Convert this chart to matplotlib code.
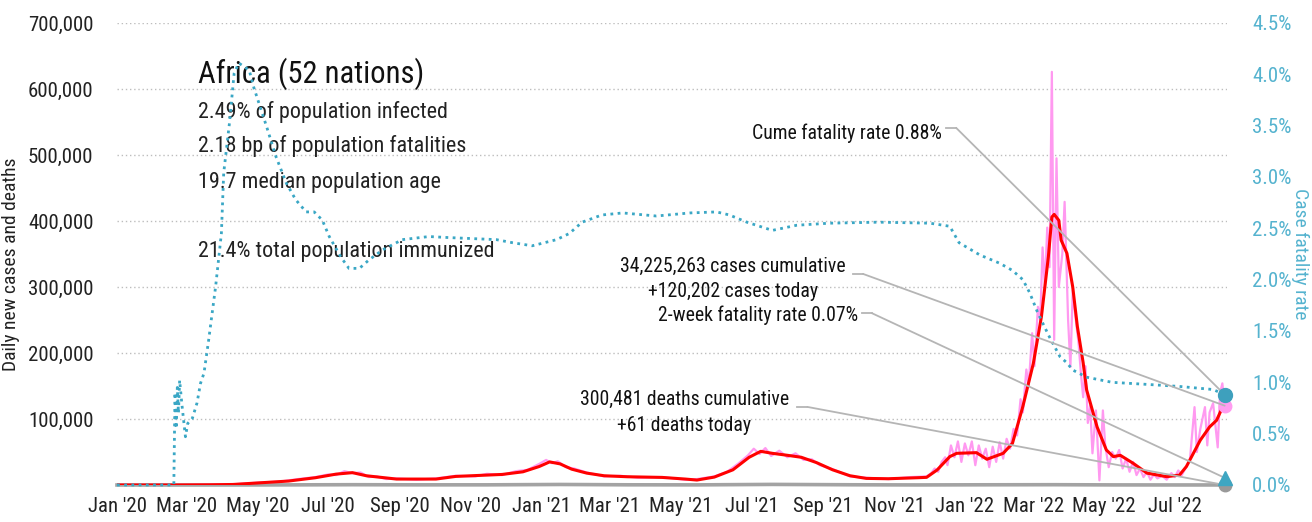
import matplotlib
matplotlib.use("Agg")
import matplotlib.pyplot as plt
import matplotlib.dates as mdates
from matplotlib import font_manager as fm
import numpy as np
import pandas as pd
from matplotlib.ticker import FuncFormatter, MultipleLocator


def pick_font():
    """Prefer a narrow sans; fall back to a regular one."""
    fonts = fm.fontManager.ttflist
    names = {f.name for f in fonts}
    for name in ["Roboto Condensed", "Liberation Sans Narrow", "Arial Narrow",
                 "Open Sans Condensed", "Noto Sans Condensed", "DejaVu Sans Condensed"]:
        if name in names:
            return name, "normal", 1.0
    for fam in ["Roboto", "Noto Sans", "Open Sans", "DejaVu Sans"]:
        for f in fonts:
            if f.name == fam and "ondensed" in f.fname:
                return fam, "condensed", 1.0
    return "Roboto", "normal", 0.88


FONT, STRETCH, FS = pick_font()
plt.rcParams["font.family"] = [FONT, "DejaVu Sans"]
plt.rcParams["font.stretch"] = STRETCH

# 7-day average of new cases (thousands)
avg_dates = [
    "2020-01-01", "2020-02-19", "2020-03-21", "2020-04-10", "2020-05-05", "2020-05-28",
    "2020-06-20", "2020-07-08", "2020-07-22", "2020-08-03", "2020-08-29", "2020-10-02",
    "2020-10-19", "2020-11-28", "2020-12-16", "2020-12-30", "2021-01-08", "2021-01-17",
    "2021-01-27", "2021-02-09", "2021-02-24", "2021-03-16", "2021-04-15", "2021-05-05",
    "2021-05-15", "2021-05-30", "2021-06-15", "2021-06-29", "2021-07-09", "2021-07-19",
    "2021-08-01", "2021-08-13", "2021-08-26", "2021-09-09", "2021-09-24", "2021-10-08",
    "2021-10-27", "2021-11-21", "2021-11-29", "2021-12-08", "2021-12-19", "2021-12-25",
    "2022-01-11", "2022-01-20", "2022-02-03", "2022-02-11", "2022-02-20", "2022-03-01",
    "2022-03-08", "2022-03-14", "2022-03-17", "2022-03-19", "2022-03-23", "2022-03-25",
    "2022-03-30", "2022-04-04", "2022-04-08", "2022-04-13", "2022-04-16", "2022-04-25",
    "2022-05-03", "2022-05-09", "2022-05-15", "2022-05-26", "2022-06-07", "2022-06-24",
    "2022-07-05", "2022-07-11", "2022-07-23", "2022-07-31", "2022-08-06", "2022-08-13",
]
avg_cases = [
    0, 0, 0.3, 0.8, 3.5, 6,
    11, 16.5, 18.7, 14, 9, 9,
    13, 16, 20, 28, 35, 32,
    24, 18, 14, 12.5, 11.5, 9,
    7.5, 12, 23, 42, 51, 48,
    45, 42, 34, 23, 14, 10,
    9.5, 11, 11.6, 22.7, 43, 48,
    49, 39, 48, 63, 119, 184,
    255, 346, 406, 410, 401, 371,
    351, 300, 240, 185, 144, 88,
    53, 43, 45, 33, 18, 12.6,
    15, 28, 68, 88, 98, 125,
]

# daily new cases (thousands)
daily_dates = [
    "2020-01-01", "2020-02-19", "2020-03-21", "2020-04-10", "2020-05-05", "2020-05-20",
    "2020-06-05", "2020-06-20", "2020-07-01", "2020-07-08", "2020-07-15", "2020-07-22",
    "2020-07-29", "2020-08-05", "2020-08-12", "2020-08-20", "2020-08-29", "2020-09-15",
    "2020-10-02", "2020-10-19", "2020-11-05", "2020-11-15", "2020-11-28", "2020-12-10",
    "2020-12-20", "2020-12-30", "2021-01-05", "2021-01-10", "2021-01-15", "2021-01-22",
    "2021-01-29", "2021-02-09", "2021-02-24", "2021-03-10", "2021-03-25", "2021-04-15",
    "2021-05-05", "2021-05-15", "2021-05-30", "2021-06-10", "2021-06-20", "2021-06-28",
    "2021-07-03", "2021-07-08", "2021-07-13", "2021-07-18", "2021-07-25", "2021-08-01",
    "2021-08-08", "2021-08-15", "2021-08-22", "2021-08-29", "2021-09-09", "2021-09-24",
    "2021-10-08", "2021-10-27", "2021-11-15", "2021-11-29", "2021-12-03", "2021-12-06",
    "2021-12-09", "2021-12-12", "2021-12-15", "2021-12-17", "2021-12-20", "2021-12-23",
    "2021-12-26", "2021-12-29", "2022-01-01", "2022-01-04", "2022-01-07", "2022-01-10",
    "2022-01-13", "2022-01-16", "2022-01-19", "2022-01-22", "2022-01-25", "2022-01-28",
    "2022-01-31", "2022-02-03", "2022-02-06", "2022-02-09", "2022-02-12", "2022-02-15",
    "2022-02-18", "2022-02-20", "2022-02-23", "2022-02-25", "2022-02-28", "2022-03-02",
    "2022-03-05", "2022-03-07", "2022-03-09", "2022-03-11", "2022-03-13", "2022-03-15",
    "2022-03-17", "2022-03-19", "2022-03-21", "2022-03-23", "2022-03-26", "2022-03-28",
    "2022-03-31", "2022-04-02", "2022-04-04", "2022-04-06", "2022-04-09", "2022-04-11",
    "2022-04-13", "2022-04-15", "2022-04-17", "2022-04-19", "2022-04-21", "2022-04-24",
    "2022-04-27", "2022-04-30", "2022-05-02", "2022-05-05", "2022-05-08", "2022-05-11",
    "2022-05-14", "2022-05-17", "2022-05-20", "2022-05-23", "2022-05-26", "2022-05-29",
    "2022-06-01", "2022-06-04", "2022-06-07", "2022-06-10", "2022-06-13", "2022-06-16",
    "2022-06-20", "2022-06-24", "2022-06-28", "2022-07-01", "2022-07-04", "2022-07-07",
    "2022-07-10", "2022-07-14", "2022-07-18", "2022-07-20", "2022-07-23", "2022-07-27",
    "2022-07-29", "2022-07-31", "2022-08-03", "2022-08-07", "2022-08-09", "2022-08-11",
    "2022-08-13",
]
daily_cases = [
    0, 0, 0.4, 1.0, 4, 5,
    9, 12, 16, 15, 21, 18,
    19, 12, 13, 9, 10, 8,
    10, 14, 13, 17, 15, 21,
    23, 32, 38, 33, 36, 27,
    25, 19, 13, 14, 11, 12,
    8, 9, 13, 20, 33, 45,
    55, 47, 56, 44, 52, 42,
    48, 38, 39, 30, 24, 13,
    11, 9, 12, 13, 18, 25,
    20, 35, 42, 30, 60, 42,
    66, 35, 63, 45, 66, 30,
    60, 40, 55, 27, 58, 35,
    65, 40, 70, 55, 85, 75,
    130, 110, 175, 150, 230, 180,
    270, 250, 360, 300, 390, 330,
    626, 220, 495, 300, 350, 429,
    250, 179, 295, 260, 215, 170,
    133, 180, 94, 120, 48, 113,
    7, 113, 60, 27, 50, 40,
    53, 25, 40, 20, 35, 15,
    25, 12, 20, 8, 16, 10,
    14, 8, 18, 12, 22, 15,
    25, 38, 118, 50, 85, 118,
    60, 110, 124, 57, 139, 154,
    120.202,
]

# daily deaths
death_dates = [
    "2020-01-01", "2020-03-20", "2020-05-05", "2020-07-22", "2020-09-15", "2020-11-15",
    "2021-01-17", "2021-03-16", "2021-05-15", "2021-07-19", "2021-09-24", "2021-11-21",
    "2022-01-11", "2022-03-19", "2022-05-09", "2022-07-05", "2022-08-13",
]
daily_deaths = [
    0, 30, 100, 450, 250, 250,
    800, 300, 200, 900, 350, 100,
    300, 450, 150, 60, 61,
]

# case fatality rate (%)
cfr_dates = [
    "2020-01-01", "2020-02-19", "2020-02-20", "2020-02-21", "2020-02-22", "2020-02-23",
    "2020-02-24", "2020-02-26", "2020-02-29", "2020-03-02", "2020-03-06", "2020-03-10",
    "2020-03-13", "2020-03-16", "2020-03-20", "2020-03-26", "2020-03-31", "2020-04-02",
    "2020-04-07", "2020-04-11", "2020-04-15", "2020-04-24", "2020-04-28", "2020-05-09",
    "2020-05-17", "2020-05-26", "2020-06-03", "2020-06-12", "2020-06-19", "2020-06-26",
    "2020-07-02", "2020-07-12", "2020-07-19", "2020-07-28", "2020-08-05", "2020-08-17",
    "2020-09-03", "2020-09-26", "2020-10-13", "2020-11-23", "2020-12-07", "2020-12-24",
    "2021-01-14", "2021-01-25", "2021-02-05", "2021-02-22", "2021-03-12", "2021-04-10",
    "2021-05-09", "2021-06-01", "2021-06-12", "2021-06-27", "2021-07-19", "2021-08-09",
    "2021-09-06", "2021-10-19", "2021-12-02", "2021-12-19", "2021-12-27", "2022-01-14",
    "2022-01-31", "2022-02-11", "2022-02-20", "2022-02-26", "2022-03-04", "2022-03-09",
    "2022-03-15", "2022-03-24", "2022-03-30", "2022-04-04", "2022-04-16", "2022-05-08",
    "2022-06-07", "2022-07-05", "2022-08-03", "2022-08-13",
]
cfr_pct = [
    0, 0, 0.9, 0.55, 0.95, 0.7,
    1.02, 0.78, 0.47, 0.6, 0.65, 0.8,
    0.99, 1.09, 1.41, 1.93, 2.45, 3.04,
    3.53, 4.01, 4.11, 4.04, 3.87, 3.49,
    3.2, 2.94, 2.78, 2.66, 2.66, 2.58,
    2.42, 2.22, 2.11, 2.11, 2.19, 2.29,
    2.39, 2.42, 2.41, 2.39, 2.36, 2.33,
    2.39, 2.45, 2.56, 2.63, 2.65, 2.62,
    2.65, 2.66, 2.63, 2.56, 2.48, 2.53,
    2.55, 2.56, 2.55, 2.52, 2.36, 2.24,
    2.16, 2.09, 2.0, 1.87, 1.70, 1.58,
    1.44, 1.25, 1.19, 1.12, 1.05, 1.0,
    0.98, 0.96, 0.93, 0.88,
]

# latest figures
last_day = "2022-08-13"
cases_today = 120202
deaths_today = 61
cume_cfr = 0.88
two_week_cfr = 0.07

info_title = "Africa (52 nations)"
info_lines = [
    "2.49% of population infected",
    "2.18 bp of population fatalities",
    "19.7 median population age",
    "21.4% total population immunized",
]

PINK = "#ff99f0"
RED = "#ff0000"
TEAL = "#3aa7c5"
TEAL_TXT = "#55b3cf"
GRAY = "#a3a3a3"
LEADER = "#b5b5b5"

fig = plt.figure(figsize=(13.12, 5.22), dpi=100)
ax = fig.add_axes([117 / 1312, 37 / 522, 1110 / 1312, 462 / 522])
ax2 = ax.twinx()

ax.plot(pd.to_datetime(daily_dates), np.array(daily_cases) * 1000,
        color=PINK, lw=1.6, zorder=2)
ax.plot(pd.to_datetime(avg_dates), np.array(avg_cases) * 1000,
        color=RED, lw=2.2, zorder=3)
ax.plot(pd.to_datetime(death_dates), daily_deaths,
        color=GRAY, lw=2.6, zorder=1, clip_on=False)

ax2.plot(pd.to_datetime(cfr_dates), np.array(cfr_pct) / 100,
         color=TEAL, lw=2.0, linestyle=(0, (1, 1.6)), zorder=2, clip_on=False)

end = pd.Timestamp(last_day)
end_num = mdates.date2num(end)
ax.plot([end], [deaths_today], "o", color="#999999", ms=9, clip_on=False, zorder=5)
ax.plot([end], [cases_today], "o", color="#ff9cf0", ms=9, clip_on=False, zorder=5)
ax2.plot([end], [two_week_cfr / 100], "^", color="#3ea6c2", ms=10, clip_on=False, zorder=6)
ax2.plot([end], [cume_cfr / 100], "o", color="#3ea0bd", ms=10, clip_on=False, zorder=6)

ax.set_xlim(pd.Timestamp("2020-01-01"), pd.Timestamp("2022-08-15"))
ax.set_ylim(0, 700000)
ax2.set_ylim(0, 0.045)

ax.set_yticks(np.arange(100000, 700001, 100000))
ax.yaxis.set_major_formatter(FuncFormatter(lambda v, p: f"{int(v):,}"))
ax.grid(axis="y", color="#bdbdbd", linestyle=(0, (1, 2)), lw=1)
ax.xaxis.set_major_locator(mdates.MonthLocator(bymonth=[1, 3, 5, 7, 9, 11]))
ax.xaxis.set_major_formatter(mdates.DateFormatter("%b '%y"))

ax2.yaxis.set_major_locator(MultipleLocator(0.005))
ax2.yaxis.set_major_formatter(FuncFormatter(lambda v, p: f"{v * 100:.1f}%"))

for a in (ax, ax2):
    for s in a.spines.values():
        s.set_visible(False)
ax.tick_params(axis="both", length=0, labelsize=15 * FS, colors="#222222")
ax.tick_params(axis="y", pad=17)
ax.tick_params(axis="x", pad=9)
ax2.tick_params(axis="y", length=0, labelsize=15 * FS, colors=TEAL_TXT, pad=18)

ax.set_ylabel("Daily new cases and deaths", fontsize=14 * FS, color="#222222")
ax.yaxis.set_label_coords(-0.087, 0.478)
ax2.set_ylabel("Case fatality rate", fontsize=14 * FS, color=TEAL_TXT, rotation=270,
               va="center")
ax2.yaxis.set_label_coords(1.066, 0.5)

# info block
ax.text(0.073, 0.870, info_title, transform=ax.transAxes, fontsize=23 * FS * 0.96,
        color="#111111", va="baseline")
for txt, y in zip(info_lines, [0.794, 0.721, 0.643, 0.494]):
    ax.text(0.073, y, txt, transform=ax.transAxes, fontsize=17 * FS * 0.94,
            color="#222222", va="baseline")


def leader(label_xy, stub, target_y, texts, ha):
    """Annotation text with a short stub and a diagonal line to the end marker."""
    for t, (tx, ty) in zip(texts, label_xy):
        ax.text(tx, ty, t, transform=ax.transAxes, fontsize=15 * FS * 0.95,
                color="#111111", ha=ha, va="baseline")
    x0, x1, y = stub
    ax2.plot([x0, x1], [y, y], color=LEADER, lw=1.3, transform=ax.transAxes,
             zorder=4, clip_on=False)
    ax2.annotate("", xy=(end_num, target_y), xycoords="data",
                 xytext=(x1, y), textcoords="axes fraction",
                 arrowprops=dict(arrowstyle="-", color=LEADER, lw=1.3,
                                 shrinkA=0, shrinkB=0), zorder=4)


leader([(0.743, 0.749)], (0.747, 0.756, 0.773), cume_cfr / 100,
       [f"Cume fatality rate {cume_cfr:.2f}%"], "right")
leader([(0.555, 0.461), (0.555, 0.407)], (0.663, 0.672, 0.457),
       cases_today / 700000 * 0.045,
       ["34,225,263 cases cumulative", f"+{cases_today:,} cases today"], "center")
leader([(0.668, 0.355)], (0.671, 0.680, 0.372), two_week_cfr / 100,
       [f"2-week fatality rate {two_week_cfr:.2f}%"], "right")
leader([(0.511, 0.173), (0.511, 0.117)], (0.613, 0.622, 0.169), 0,
       ["300,481 deaths cumulative", f"+{deaths_today} deaths today"], "center")

fig.savefig("out.png", dpi=100, facecolor="white")
